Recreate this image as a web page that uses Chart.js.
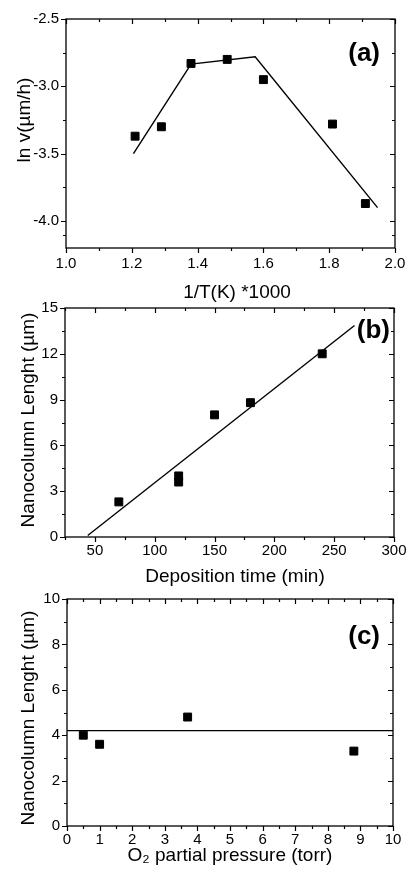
<!DOCTYPE html>
<html>
<head>
<meta charset="utf-8">
<script src="https://cdn.jsdelivr.net/npm/chart.js@4.4.1/dist/chart.umd.min.js"></script>
<style>
  html, body { margin: 0; padding: 0; background: #fff; }
  body { width: 409px; height: 871px; position: relative; overflow: hidden; }
  .panel { position: absolute; left: 0; width: 409px; }
  canvas { display: block; }
</style>
</head>
<body>
<div class="panel" id="pa" style="top:0px;height:310px"><canvas id="ca"></canvas></div>
<div class="panel" id="pb" style="top:290px;height:300px"><canvas id="cb"></canvas></div>
<div class="panel" id="pc" style="top:580px;height:291px"><canvas id="cc"></canvas></div>
<script>
// ---------- Panel (a) data ----------
const aInvT = [1.21, 1.29, 1.38, 1.49, 1.60, 1.81, 1.91];
const aLnV  = [-3.37, -3.30, -2.83, -2.80, -2.95, -3.28, -3.87];
const aFitX = [1.205, 1.38, 1.575, 1.947];
const aFitY = [-3.50, -2.835, -2.78, -3.90];
const aXTicks = [1.0, 1.2, 1.4, 1.6, 1.8, 2.0];
const aYTicks = [-4.0, -3.5, -3.0, -2.5];

// ---------- Panel (b) data ----------
const bTime = [70, 120, 120, 150, 180, 240];
const bLen  = [2.3, 4.0, 3.6, 8.0, 8.8, 12.0];
const bFitX = [44, 267];
const bFitY = [0.1, 13.85];
const bXTicks = [50, 100, 150, 200, 250, 300];
const bYTicks = [0, 3, 6, 9, 12, 15];

// ---------- Panel (c) data ----------
const cPress = [0.5, 1.0, 3.7, 8.8];
const cLen   = [4.0, 3.6, 4.8, 3.3];
const cFitX  = [0, 10];
const cFitY  = [4.2, 4.2];
const cXTicks = [0, 1, 2, 3, 4, 5, 6, 7, 8, 9, 10];
const cYTicks = [0, 2, 4, 6, 8, 10];

const FONT = "'Liberation Sans', Arial, Helvetica, sans-serif";

function pts(xs, ys) { return xs.map((x, i) => ({ x: x, y: ys[i] })); }

// Plugin: frame, minor ticks, inward ticks on top/right, axis titles, panel label
const framePlugin = {
  id: 'frame',
  afterDraw(chart) {
    const o = chart.options.plugins.frame;
    const ctx = chart.ctx;
    const a = chart.chartArea;
    const xs = chart.scales.x, ys = chart.scales.y;
    ctx.save();
    ctx.strokeStyle = '#000';
    ctx.lineWidth = 1.3;
    ctx.strokeRect(a.left, a.top, a.right - a.left, a.bottom - a.top);
    ctx.lineWidth = 1.2;
    const majX = o.xTicks, majY = o.yTicks;
    const minX = [], minY = [];
    for (let i = 0; i < majX.length - 1; i++) minX.push((majX[i] + majX[i + 1]) / 2);
    for (let i = 0; i < majY.length - 1; i++) minY.push((majY[i] + majY[i + 1]) / 2);
    if (o.xMinorExtra) o.xMinorExtra.forEach(v => minX.push(v));
    if (o.yMinorExtra) o.yMinorExtra.forEach(v => minY.push(v));
    ctx.beginPath();
    majX.forEach(v => {
      const p = Math.round(xs.getPixelForValue(v)) + 0.5;
      ctx.moveTo(p, a.bottom); ctx.lineTo(p, a.bottom + 5);
      ctx.moveTo(p, a.top); ctx.lineTo(p, a.top + 5);
    });
    minX.forEach(v => {
      const p = Math.round(xs.getPixelForValue(v)) + 0.5;
      if (p < a.left || p > a.right) return;
      ctx.moveTo(p, a.bottom); ctx.lineTo(p, a.bottom + 3);
      ctx.moveTo(p, a.top); ctx.lineTo(p, a.top + 3);
    });
    majY.forEach(v => {
      const p = Math.round(ys.getPixelForValue(v)) + 0.5;
      ctx.moveTo(a.left, p); ctx.lineTo(a.left - 5, p);
      ctx.moveTo(a.right, p); ctx.lineTo(a.right - 5, p);
    });
    minY.forEach(v => {
      const p = Math.round(ys.getPixelForValue(v)) + 0.5;
      if (p < a.top || p > a.bottom) return;
      ctx.moveTo(a.left, p); ctx.lineTo(a.left - 3, p);
      ctx.moveTo(a.right, p); ctx.lineTo(a.right - 3, p);
    });
    ctx.stroke();
    ctx.fillStyle = '#000';
    ctx.textBaseline = 'middle';
    // axis titles
    ctx.font = "19px " + FONT;
    ctx.textAlign = 'center';
    ctx.fillText(o.xTitle, o.xTitlePos[0], o.xTitlePos[1]);
    ctx.save();
    ctx.translate(o.yTitlePos[0], o.yTitlePos[1]);
    ctx.rotate(-Math.PI / 2);
    ctx.fillText(o.yTitle, 0, 0);
    ctx.restore();
    // panel label
    ctx.font = "bold 26px " + FONT;
    ctx.textAlign = 'right';
    ctx.fillText(o.label, a.right - o.labelDx, a.top + o.labelDy);
    ctx.restore();
  }
};

function makeChart(id, cfg) {
  const fixTicks = (arr) => (scale) => { scale.ticks = arr.map(v => ({ value: v })); };
  return new Chart(document.getElementById(id), {
    type: 'scatter',
    data: {
      datasets: [
        {
          data: cfg.points,
          pointStyle: 'rect',
          pointRadius: 5.6,
          pointHoverRadius: 5.6,
          backgroundColor: '#000',
          borderColor: '#000',
          borderWidth: 1,
          showLine: false,
          clip: false
        },
        {
          data: cfg.fit,
          showLine: true,
          pointRadius: 0,
          borderColor: '#000',
          borderWidth: 1.4,
          fill: false,
          tension: 0
        }
      ]
    },
    options: {
      responsive: false,
      animation: false,
      devicePixelRatio: 1,
      layout: { padding: { left: 0, top: cfg.top, right: 409 - cfg.right, bottom: 0 } },
      plugins: {
        legend: { display: false },
        tooltip: { enabled: false },
        frame: {
          xTicks: cfg.xTicks, yTicks: cfg.yTicks, label: cfg.label,
          labelDx: cfg.labelDx, labelDy: cfg.labelDy,
          xMinorExtra: cfg.xMinorExtra, yMinorExtra: cfg.yMinorExtra,
          xTitle: cfg.xTitle, yTitle: cfg.yTitle,
          xTitlePos: cfg.xTitlePos, yTitlePos: cfg.yTitlePos
        }
      },
      scales: {
        x: {
          type: 'linear',
          min: cfg.xMin, max: cfg.xMax,
          afterBuildTicks: fixTicks(cfg.xTicks),
          afterFit: (s) => { s.height = cfg.height - cfg.bottom; s.paddingLeft = 0; s.paddingRight = 0; },
          grid: { display: false, drawTicks: false },
          border: { display: false },
          ticks: {
            color: '#000', padding: cfg.xTickPad, maxRotation: 0, autoSkip: false,
            font: { family: FONT, size: 15 },
            callback: cfg.xFmt
          },
          title: { display: false }
        },
        y: {
          type: 'linear',
          min: cfg.yMin, max: cfg.yMax,
          afterBuildTicks: fixTicks(cfg.yTicks),
          afterFit: (s) => { s.width = cfg.left; s.paddingTop = 0; s.paddingBottom = 0; },
          grid: { display: false, drawTicks: false },
          border: { display: false },
          ticks: {
            color: '#000', padding: 7, autoSkip: false,
            font: { family: FONT, size: 15 },
            callback: cfg.yFmt
          },
          title: { display: false }
        }
      }
    },
    plugins: [framePlugin]
  });
}

function sizeCanvas(id, h) {
  const c = document.getElementById(id);
  c.width = 409; c.height = h;
  c.style.width = '409px'; c.style.height = h + 'px';
}
sizeCanvas('ca', 310);
sizeCanvas('cb', 300);
sizeCanvas('cc', 291);

makeChart('ca', {
  points: pts(aInvT, aLnV), fit: pts(aFitX, aFitY),
  xTicks: aXTicks, yTicks: aYTicks,
  xMin: 1.0, xMax: 2.0, yMin: -4.2, yMax: -2.5,
  yMinorExtra: [-4.25, -4.1],
  top: 19, bottom: 248, left: 66, right: 395, height: 310,
  xTitle: '1/T(K) *1000', yTitle: 'ln v(\u00B5m/h)',
  xTitlePos: [237, 293], yTitlePos: [25, 120],
  xTickPad: 7,
  xFmt: v => Number(v).toFixed(1), yFmt: v => Number(v).toFixed(1),
  label: '(a)', labelDx: 15, labelDy: 35
});

makeChart('cb', {
  points: pts(bTime, bLen), fit: pts(bFitX, bFitY),
  xTicks: bXTicks, yTicks: bYTicks,
  xMin: 25, xMax: 300, yMin: 0, yMax: 15,
  xMinorExtra: [25],
  top: 18, bottom: 247, left: 65, right: 394, height: 300,
  xTitle: 'Deposition time (min)', yTitle: 'Nanocolumn Lenght (\u00B5m)',
  xTitlePos: [235, 287], yTitlePos: [29, 130],
  xTickPad: 5,
  xFmt: v => String(v), yFmt: v => String(v),
  label: '(b)', labelDx: 4, labelDy: 23
});

makeChart('cc', {
  points: pts(cPress, cLen), fit: pts(cFitX, cFitY),
  xTicks: cXTicks, yTicks: cYTicks,
  xMin: 0, xMax: 10, yMin: 0, yMax: 10,
  top: 19, bottom: 246, left: 67, right: 393, height: 291,
  xTitle: 'O\u2082 partial pressure (torr)', yTitle: 'Nanocolumn Lenght (\u00B5m)',
  xTitlePos: [230, 276], yTitlePos: [29, 138],
  xTickPad: 5,
  xFmt: v => String(v), yFmt: v => String(v),
  label: '(c)', labelDx: 13, labelDy: 38
});
</script>
</body>
</html>
